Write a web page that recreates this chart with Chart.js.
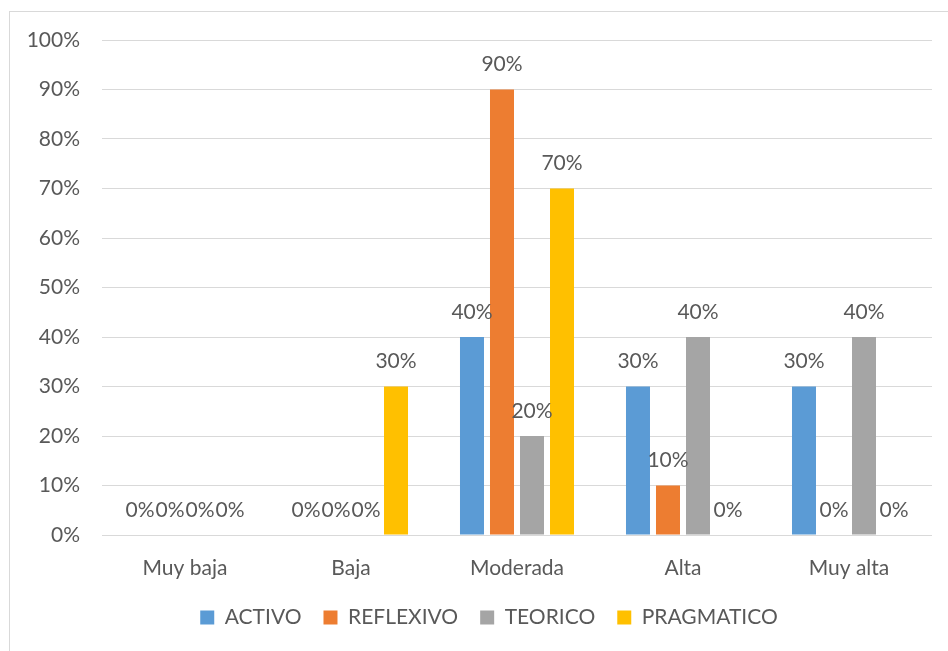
<!DOCTYPE html>
<html>
<head>
<meta charset="utf-8">
<script src="https://cdn.jsdelivr.net/npm/chart.js@4.4.0/dist/chart.umd.min.js"></script>
<style>
    html, body { margin: 0; padding: 0; background: #ffffff; overflow: hidden; }
    #frame {
        position: absolute; left: 9px; top: 11px; width: 960px; height: 660px;
        border-left: 1px solid #D9D9D9; border-top: 1px solid #D9D9D9;
    }
    #wrap { position: absolute; left: 0; top: 0; width: 948px; height: 651px; }
</style>
</head>
<body>
<div id="frame"></div>
<div id="wrap"><canvas id="myChart" width="948" height="651"></canvas></div>
<script>
const labels = ['Muy baja', 'Baja', 'Moderada', 'Alta', 'Muy alta'];

const activo = [0, 0, 40, 30, 30];
const reflexivo = [0, 0, 90, 10, 0];
const teorico = [0, 0, 20, 40, 40];
const pragmatico = [0, 30, 70, 0, 0];

const yTicks = [0, 10, 20, 30, 40, 50, 60, 70, 80, 90, 100];

const textColor = '#595959';
const fontFamily = 'Lato, "Liberation Sans", sans-serif';

// etiquetas de datos encima de cada barra
const barLabels = {
    id: 'barLabels',
    afterLayout(chart) {
        // la leyenda del original esta algo desplazada a la derecha
        chart.legend.left += 23;
        chart.legend.right += 23;
    },
    afterDatasetsDraw(chart) {
        const ctx = chart.ctx;
        ctx.save();
        ctx.font = '21px ' + fontFamily;
        ctx.fillStyle = textColor;
        ctx.textAlign = 'center';
        ctx.textBaseline = 'middle';
        chart.data.datasets.forEach(function(ds, i) {
            chart.getDatasetMeta(i).data.forEach(function(bar, j) {
                ctx.fillText(ds.data[j] + '%', bar.x, bar.y - 25);
            });
        });
        ctx.restore();
    }
};

const data = {
    labels: labels,
    datasets: [
        { label: 'ACTIVO', data: activo, backgroundColor: '#5B9BD5' },
        { label: 'REFLEXIVO', data: reflexivo, backgroundColor: '#ED7D31' },
        { label: 'TEORICO', data: teorico, backgroundColor: '#A5A5A5' },
        { label: 'PRAGMATICO', data: pragmatico, backgroundColor: '#FFC000' }
    ]
};

const config = {
    type: 'bar',
    data: data,
    plugins: [barLabels],
    options: {
        responsive: false,
        animation: false,
        categoryPercentage: 0.723,
        barPercentage: 0.8,
        layout: { padding: { left: 0, right: 16, top: 40, bottom: 13 } },
        plugins: {
            tooltip: { enabled: false },
            legend: {
                position: 'bottom',
                labels: {
                    boxWidth: 14,
                    boxHeight: 14,
                    padding: 22,
                    color: textColor,
                    font: { family: fontFamily, size: 21 }
                }
            }
        },
        scales: {
            x: {
                grid: { display: false },
                border: { display: false },
                ticks: { color: textColor, padding: 13, font: { family: fontFamily, size: 21 } },
                afterFit(scale) { scale.height = 50; }
            },
            y: {
                min: 0,
                max: 100,
                afterBuildTicks(scale) { scale.ticks = yTicks.map(v => ({ value: v })); },
                grid: { color: '#D9D9D9', lineWidth: 1, drawTicks: false },
                border: { display: false },
                ticks: {
                    color: textColor,
                    padding: 22,
                    font: { family: fontFamily, size: 21 },
                    callback: v => v + '%'
                },
                afterFit(scale) { scale.width = 102; }
            }
        }
    }
};

const myChart = new Chart(document.getElementById('myChart'), config);
</script>
</body>
</html>
